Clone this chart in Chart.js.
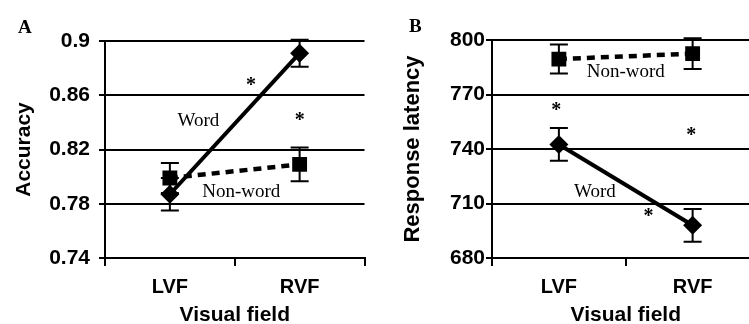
<!DOCTYPE html>
<html>
<head>
<meta charset="utf-8">
<script src="https://cdn.jsdelivr.net/npm/chart.js@4.4.1/dist/chart.umd.min.js"></script>
<style>
  body { margin: 0; width: 749px; height: 324px; overflow: hidden; background: #fff; position: relative; }
  canvas { position: absolute; top: 0; }
  .letter { position: absolute; font-family: "Liberation Serif", "Times New Roman", serif; font-weight: bold; font-size: 19px; line-height: 19px; z-index: 2; }
</style>
</head>
<body>
<div class="letter" style="left:18px;top:17px">A</div>
<div class="letter" style="left:409px;top:16px">B</div>
<canvas id="accChart" width="375" height="324" style="left:0"></canvas>
<canvas id="rtChart" width="395" height="324" style="left:375px"></canvas>
<script>
const fields = ["LVF", "RVF"];

// panel A: accuracy
const accWord = [0.787, 0.891];
const accWordErr = [0.012, 0.01];
const accNonword = [0.799, 0.809];
const accNonwordErr = [0.011, 0.0125];
const accTicks = [0.74, 0.78, 0.82, 0.86, 0.9];

// panel B: response latency
const rtWord = [742.5, 698];
const rtWordErr = [9, 9];
const rtNonword = [789.5, 792.5];
const rtNonwordErr = [8, 8.5];
const rtTicks = [680, 710, 740, 770, 800];

// in-plot labels, x as category index, y in data units
const accNotes = [
  { text: "Word", x: 0.22, y: 0.841 },
  { text: "Non-word", x: 0.55, y: 0.789 },
  { text: "*", x: 0.625, y: 0.87 },
  { text: "*", x: 1.0, y: 0.844 },
];
const rtNotes = [
  { text: "Non-word", x: 0.5, y: 782.4 },
  { text: "Word", x: 0.27, y: 716.2 },
  { text: "*", x: -0.02, y: 763.3 },
  { text: "*", x: 0.99, y: 749.2 },
  { text: "*", x: 0.67, y: 704.9 },
];

Chart.defaults.font.family = "'Liberation Sans', Arial, sans-serif";
Chart.defaults.font.weight = "bold";
Chart.defaults.color = "#000";

const errorBars = {
  id: "errorBars",
  afterDatasetsDraw(chart) {
    const ctx = chart.ctx;
    const yScale = chart.scales.y;
    chart.data.datasets.forEach((ds, i) => {
      const meta = chart.getDatasetMeta(i);
      meta.data.forEach((pt, j) => {
        const top = yScale.getPixelForValue(ds.data[j] + ds.errors[j]);
        const bot = yScale.getPixelForValue(ds.data[j] - ds.errors[j]);
        ctx.save();
        ctx.strokeStyle = "#000";
        ctx.lineWidth = 2;
        ctx.beginPath();
        ctx.moveTo(pt.x, top);
        ctx.lineTo(pt.x, bot);
        ctx.moveTo(pt.x - 9, top);
        ctx.lineTo(pt.x + 9, top);
        ctx.moveTo(pt.x - 9, bot);
        ctx.lineTo(pt.x + 9, bot);
        ctx.stroke();
        ctx.restore();
      });
    });
  },
};

function notesPlugin(notes) {
  return {
    id: "notes",
    afterDraw(chart) {
      const ctx = chart.ctx;
      const xs = chart.scales.x, ys = chart.scales.y;
      ctx.save();
      ctx.fillStyle = "#000";
      ctx.textAlign = "center";
      ctx.textBaseline = "middle";
      notes.forEach((n) => {
        const px = xs.getPixelForValue(n.x);
        let py = ys.getPixelForValue(n.y);
        if (n.text === "*") {
          ctx.font = "bold 20px 'Liberation Serif', serif";
          py += 4;
        } else {
          ctx.font = "19px 'Liberation Serif', serif";
        }
        ctx.fillText(n.text, px, py);
      });
      ctx.restore();
    },
  };
}

function makeChart(id, opts) {
  return new Chart(document.getElementById(id), {
    type: "line",
    data: {
      labels: fields,
      datasets: [
        {
          label: "Non-word",
          data: opts.nonword,
          errors: opts.nonwordErr,
          borderColor: "#000",
          borderWidth: 4.5,
          borderDash: [8, 6],
          pointStyle: "rect",
          pointRadius: 10.5,
          pointBackgroundColor: "#000",
          pointBorderWidth: 0,
          tension: 0,
        },
        {
          label: "Word",
          data: opts.word,
          errors: opts.wordErr,
          borderColor: "#000",
          borderWidth: 4,
          pointStyle: "rectRot",
          pointRadius: 9.5,
          pointBackgroundColor: "#000",
          pointBorderWidth: 0,
          tension: 0,
        },
      ],
    },
    options: {
      responsive: false,
      animation: false,
      layout: { padding: { top: opts.top, right: 6, bottom: 0, left: 0 } },
      plugins: { legend: { display: false }, tooltip: { enabled: false } },
      scales: {
        x: {
          offset: true,
          grid: { offset: true, drawOnChartArea: false, tickLength: 8, color: "#000", lineWidth: 2 },
          border: { color: "#000", width: 2 },
          ticks: { font: { size: 20 }, padding: 9 },
          title: { display: true, text: "Visual field", font: { size: 21, lineHeight: 1 }, padding: { top: 0, bottom: -1.5 } },
          afterFit: (s) => { s.height = 66; },
        },
        y: {
          min: opts.ticks[0],
          max: opts.ticks[opts.ticks.length - 1],
          afterBuildTicks: (s) => { s.ticks = opts.ticks.map((v) => ({ value: v })); },
          grid: { color: "#000", lineWidth: 2, tickLength: 6 },
          border: { color: "#000", width: 2 },
          ticks: { font: { size: 21 }, padding: opts.tickPad, callback: (v) => String(v) },
          title: { display: true, text: opts.title, font: { size: opts.titleSize }, padding: { top: opts.titlePad, bottom: 0 } },
          afterFit: (s) => { s.width = opts.axisLeft; },
        },
      },
    },
    plugins: [errorBars, notesPlugin(opts.notes)],
  });
}

makeChart("accChart", {
  word: accWord, wordErr: accWordErr,
  nonword: accNonword, nonwordErr: accNonwordErr,
  ticks: accTicks, notes: accNotes,
  title: "Accuracy", titleSize: 21, titlePad: 12,
  top: 41, axisLeft: 105, tickPad: 9,
});

makeChart("rtChart", {
  word: rtWord, wordErr: rtWordErr,
  nonword: rtNonword, nonwordErr: rtNonwordErr,
  ticks: rtTicks, notes: rtNotes,
  title: "Response latency", titleSize: 22, titlePad: 25,
  top: 40, axisLeft: 117, tickPad: 1,
});
</script>
</body>
</html>
